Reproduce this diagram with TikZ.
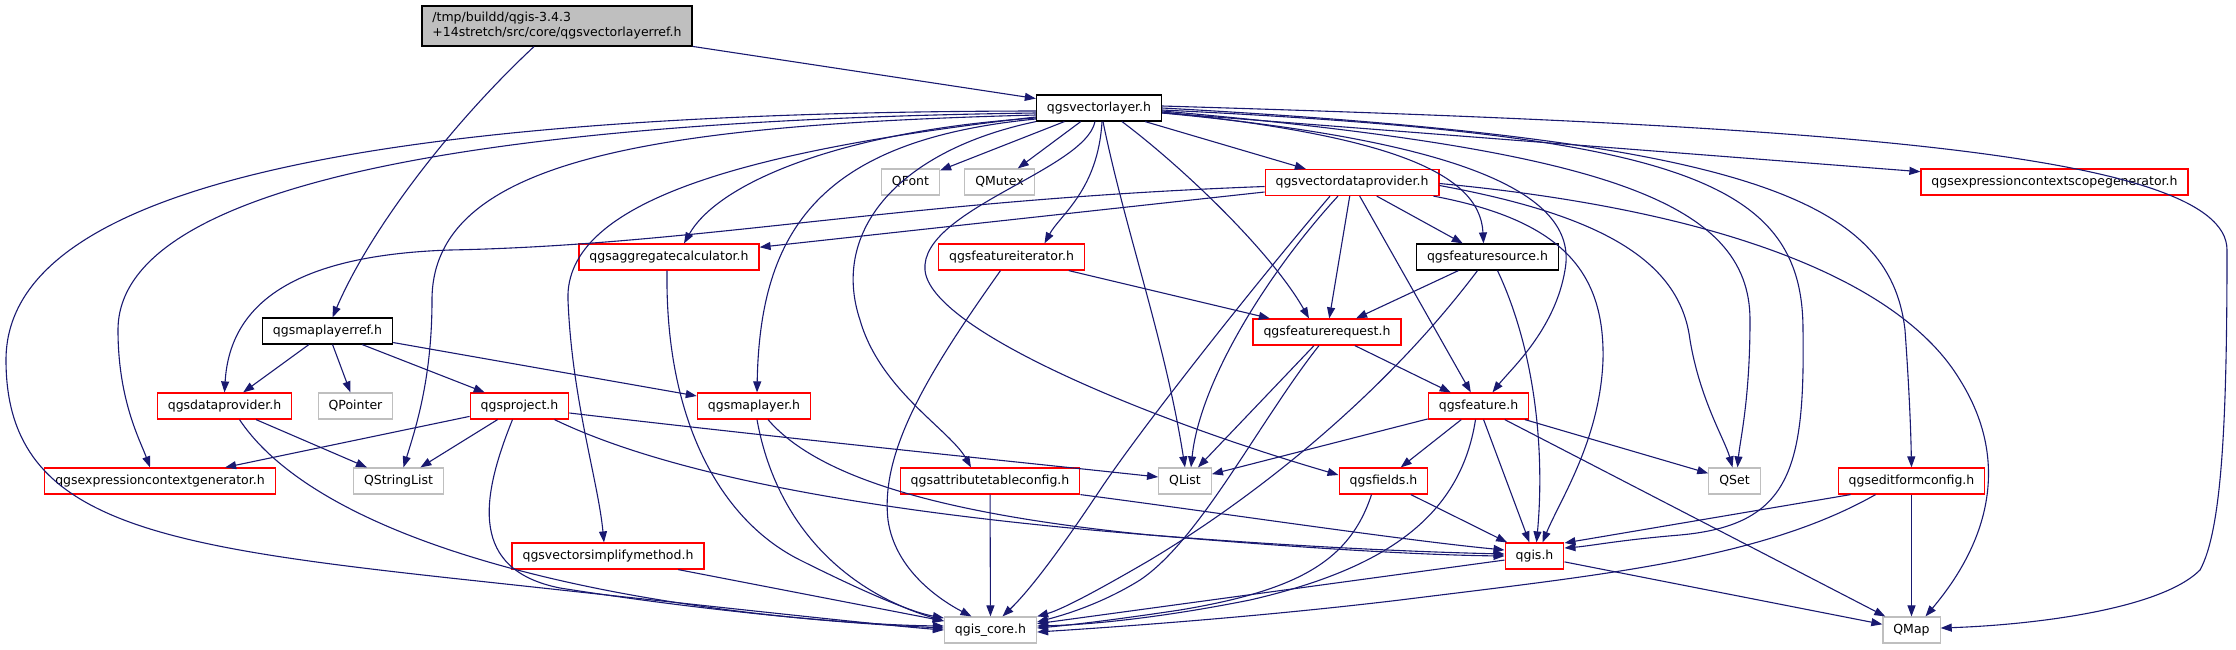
\documentclass[tikz,border=0pt]{standalone}
\usepackage{fontspec}
\setmainfont{DejaVu Sans}
\usepackage{tikz}
\usetikzlibrary{arrows.meta}
\usepackage{xcolor}
\definecolor{edgeblue}{RGB}{25,25,112}
\definecolor{boxred}{RGB}{255,0,0}
\definecolor{boxgray}{RGB}{191,191,191}

\begin{document}
\begin{tikzpicture}[x=1pt, y=-1pt,
  hbox/.style={draw=black, fill=white, line width=1.2pt, minimum height=26pt,
    inner xsep=10.5pt, inner ysep=0pt, font=\fontsize{12.5}{15}\selectfont},
  redbox/.style={hbox, draw=boxred},
  extbox/.style={hbox, draw=boxgray},
  rootbox/.style={hbox, fill=boxgray, minimum height=40pt, align=left},
  dep/.style={draw=edgeblue, line width=1.1pt, -{Triangle[length=11pt,width=8pt]}}]
  \useasboundingbox (0,0) rectangle (2236,649);

  % headers
  \node[rootbox] (root) at (557,26) {/tmp/buildd/qgis-3.4.3\\+14stretch/src/core/qgsvectorlayerref.h};
  \node[hbox] (vl) at (1099,108) {qgsvectorlayer.h};
  \node[extbox] (qfont) at (910.5,182) {QFont};
  \node[extbox] (qmutex) at (999.5,182) {QMutex};
  \node[redbox] (vdp) at (1352,182.5) {qgsvectordataprovider.h};
  \node[redbox] (escg) at (2054.5,182) {qgsexpressioncontextscopegenerator.h};
  \node[redbox] (aggr) at (669,257) {qgsaggregatecalculator.h};
  \node[redbox] (fiter) at (1011.5,257) {qgsfeatureiterator.h};
  \node[hbox] (fsrc) at (1487.5,257) {qgsfeaturesource.h};
  \node[hbox] (mlref) at (327.5,331) {qgsmaplayerref.h};
  \node[redbox] (freq) at (1327,332) {qgsfeaturerequest.h};
  \node[redbox] (dp) at (224.5,406) {qgsdataprovider.h};
  \node[extbox] (qpointer) at (355.5,406) {QPointer};
  \node[redbox] (proj) at (519.5,406) {qgsproject.h};
  \node[redbox] (ml) at (754,406) {qgsmaplayer.h};
  \node[redbox] (feat) at (1478.5,406) {qgsfeature.h};
  \node[redbox] (ecgen) at (160,481) {qgsexpressioncontextgenerator.h};
  \node[extbox] (qstrlist) at (398.5,481) {QStringList};
  \node[redbox] (attr) at (990,481) {qgsattributetableconfig.h};
  \node[extbox] (qlist) at (1185,481) {QList};
  \node[redbox] (fields) at (1383.5,481) {qgsfields.h};
  \node[extbox] (qset) at (1734.5,481) {QSet};
  \node[redbox] (efc) at (1911.5,481) {qgseditformconfig.h};
  \node[redbox] (vsimp) at (608,556) {qgsvectorsimplifymethod.h};
  \node[redbox] (qgis) at (1534.5,556) {qgis.h};
  \node[extbox] (core) at (990.5,630) {qgis\_core.h};
  \node[extbox] (qmap) at (1911.5,630) {QMap};

  % straight includes
  \foreach \a/\b in {root/vl, vl/qfont, vl/qmutex, vl/vdp, vl/escg, vdp/aggr, vdp/freq,
      vdp/fsrc, vdp/feat, fsrc/freq, fiter/freq, mlref/dp, mlref/qpointer, mlref/proj,
      mlref/ml, dp/qstrlist, proj/ecgen, proj/qstrlist, freq/feat, freq/qlist, feat/qlist,
      feat/fields, feat/qgis, feat/qset, feat/qmap, fields/qgis, attr/core, vsimp/core,
      qgis/core, qgis/qmap, efc/qmap} {
    \draw[dep] (\a) -- (\b);
  }
  \draw[dep] ([xshift=-61pt]efc.south) -- ([yshift=13pt]qgis.east);

  % curved includes
  \draw[dep] ([xshift=-23pt]root.south) .. controls (450,125) and (370,230) .. ([xshift=5pt]mlref.north);
  \draw[dep] ([yshift=-3pt]vl.west) .. controls (350,112) and (6,190) .. (6,360)
    .. controls (6,520) and (150,545) .. (450,578) .. controls (700,605) and (880,625) .. (core.west);
  \draw[dep] ([yshift=-5pt]vl.west) .. controls (500,120) and (118,180) .. (118,330)
    .. controls (118,400) and (140,440) .. ([xshift=-10pt]ecgen.north);
  \draw[dep] ([yshift=-7pt]vl.west) .. controls (650,125) and (432,160) .. (432,300)
    .. controls (432,380) and (415,430) .. ([xshift=5pt]qstrlist.north);
  \draw[dep] ([yshift=-9pt]vl.west) .. controls (750,150) and (564,200) .. (568,300)
    .. controls (572,400) and (598,480) .. ([xshift=-4pt]vsimp.north);
  \draw[dep] ([yshift=-10pt]vl.west) .. controls (850,130) and (720,180) .. ([xshift=15pt]aggr.north);
  \draw[dep] ([yshift=-11pt]vl.west) .. controls (820,140) and (760,230) .. ([xshift=3pt]ml.north);
  \draw[dep] (vl.south west) .. controls (900,150) and (830,230) .. (860,320)
    .. controls (880,390) and (950,430) .. ([xshift=-19pt]attr.north);
  \draw[dep] ([xshift=-4pt]vl.south) .. controls (1085,170) and (920,210) .. (925,270)
    .. controls (930,330) and (1150,420) .. ([yshift=6pt]fields.west);
  \draw[dep] ([xshift=3pt]vl.south) .. controls (1098,190) and (1060,215) .. ([xshift=33pt]fiter.north);
  \draw[dep] ([xshift=4pt]vl.south) .. controls (1125,230) and (1165,340) .. (qlist.north);
  \draw[dep] ([xshift=23pt]vl.south) .. controls (1180,165) and (1270,250) .. ([xshift=-18pt]freq.north);
  \draw[dep] ([yshift=-4pt]vl.east) .. controls (1380,135) and (1480,170) .. ([xshift=-4pt]fsrc.north);
  \draw[dep] ([yshift=-5pt]vl.east) .. controls (1450,140) and (1580,190) .. (1565,270)
    .. controls (1555,330) and (1510,370) .. ([xshift=14pt]feat.north);
  \draw[dep] ([yshift=-3pt]vl.east) .. controls (1600,150) and (1750,200) .. (1750,320)
    .. controls (1750,400) and (1740,440) .. ([xshift=3pt]qset.north);
  \draw[dep] ([yshift=-2pt]vl.east) .. controls (1680,135) and (1803,180) .. (1803,330)
    .. controls (1805,470) and (1790,525) .. (1680,535) .. controls (1620,540) and (1590,546) .. ([yshift=8pt]qgis.east);
  \draw[dep] (vl.east) .. controls (1750,140) and (1890,200) .. (1905,330)
    .. controls (1910,400) and (1911,440) .. (efc.north);
  \draw[dep] ([yshift=2pt]vl.east) .. controls (1800,125) and (2227,150) .. (2227,250)
    .. controls (2227,420) and (2222,530) .. (2200,570) .. controls (2160,610) and (2030,625) .. ([yshift=2pt]qmap.east);

  \draw[dep] ([yshift=-4pt]vdp.west) .. controls (900,200) and (700,245) .. (450,250)
    .. controls (300,255) and (230,300) .. (dp.north);
  \draw[dep] ([xshift=-22pt]vdp.south) .. controls (1250,290) and (1140,430) .. (1100,490)
    .. controls (1060,550) and (1030,590) .. ([xshift=12pt]core.north);
  \draw[dep] ([xshift=-14pt]vdp.south) .. controls (1270,270) and (1200,380) .. ([xshift=6pt]qlist.north);
  \draw[dep] ([xshift=-6pt]vdp.south east) .. controls (1560,220) and (1605,270) .. (1603,360)
    .. controls (1600,440) and (1560,500) .. ([xshift=8pt]qgis.north);
  \draw[dep] ([yshift=-3pt]vdp.east) .. controls (1600,215) and (1680,260) .. (1690,340)
    .. controls (1700,400) and (1725,440) .. ([xshift=-2pt]qset.north);
  \draw[dep] ([yshift=-1pt]vdp.east) .. controls (1720,210) and (1900,280) .. (1960,380)
    .. controls (2010,460) and (1990,540) .. ([xshift=14pt]qmap.north);

  \draw[dep] ([xshift=10pt]fsrc.south) .. controls (1535,350) and (1545,450) .. ([xshift=2pt]qgis.north);
  \draw[dep] ([xshift=-10pt]fsrc.south) .. controls (1380,400) and (1250,500) .. (1150,560)
    .. controls (1090,595) and (1060,610) .. (core.north east);
  \draw[dep] ([xshift=-11pt]fiter.south) .. controls (930,370) and (880,450) .. (888,520)
    .. controls (895,570) and (940,600) .. ([xshift=-19pt]core.north);
  \draw[dep] ([xshift=-2pt]aggr.south) .. controls (665,420) and (720,520) .. (800,560)
    .. controls (860,590) and (910,612) .. ([yshift=12pt]core.west);
  \draw[dep] ([xshift=15pt]dp.south) .. controls (320,540) and (600,612) .. ([yshift=2pt]core.west);
  \draw[dep] ([yshift=-7pt]proj.east) .. controls (800,440) and (1000,460) .. ([yshift=4pt]qlist.west);
  \draw[dep] ([xshift=-7pt]proj.south) .. controls (480,500) and (470,570) .. (560,588)
    .. controls (700,610) and (850,625) .. ([yshift=4pt]core.west);
  \draw[dep] ([xshift=35pt]proj.south) .. controls (680,480) and (900,515) .. (1150,535)
    .. controls (1300,547) and (1420,552) .. ([yshift=2pt]qgis.west);
  \draw[dep] ([xshift=3pt]ml.south) .. controls (775,520) and (840,590) .. ([yshift=9pt]core.west);
  \draw[dep] ([xshift=14pt]ml.south) .. controls (820,480) and (950,515) .. (1150,535)
    .. controls (1300,548) and (1420,555) .. (qgis.west);
  \draw[dep] (attr.south east) .. controls (1200,510) and (1400,540) .. ([yshift=6pt]qgis.west);
  \draw[dep] ([xshift=-8pt]freq.south) .. controls (1260,420) and (1200,540) .. (1140,580)
    .. controls (1100,605) and (1060,616) .. ([yshift=8pt]core.east);
  \draw[dep] ([xshift=-3pt]feat.south) .. controls (1460,520) and (1380,570) .. (1250,600)
    .. controls (1150,620) and (1080,625) .. ([yshift=4pt]core.east);
  \draw[dep] ([xshift=-12pt]fields.south) .. controls (1350,560) and (1300,590) .. (1180,610)
    .. controls (1100,622) and (1060,626) .. ([yshift=2pt]core.east);
  \draw[dep] ([xshift=-36pt]efc.south) .. controls (1760,560) and (1600,575) .. (1400,600)
    .. controls (1250,618) and (1100,628) .. ([yshift=-2pt]core.east);
\end{tikzpicture}
\end{document}
